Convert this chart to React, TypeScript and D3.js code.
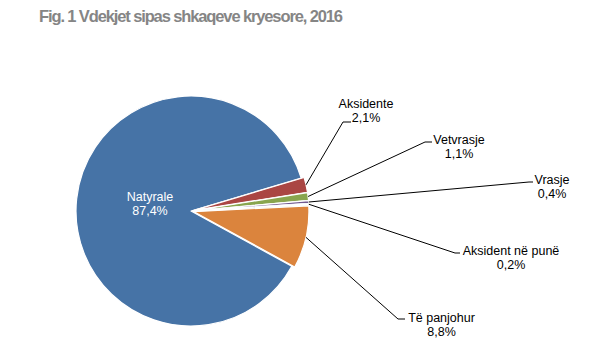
import React from "react";
import * as d3 from "d3";

const categories = ["Natyrale", "Aksidente", "Vetvrasje", "Vrasje", "Aksident në punë", "Të panjohur"];
const values = [87.4, 2.1, 1.1, 0.4, 0.2, 8.8];
const valueLabels = ["87,4%", "2,1%", "1,1%", "0,4%", "0,2%", "8,8%"];
const colors = ["#4673A6", "#AA4643", "#89A54E", "#71588F", "#4198AF", "#DB843D"];

// label layout (text centre, leader elbow x/y and end x)
const labelLayout = [
  null,
  { tx: 366, ty: 103, ex: 343, ey: 122, hx: 351 },
  { tx: 459, ty: 139, ex: 425, ey: 142, hx: 432 },
  { tx: 552, ty: 179, ex: 529, ey: 182, hx: 533 },
  { tx: 511, ty: 250, ex: 455, ey: 253, hx: 460 },
  { tx: 441.5, ty: 317, ex: 398, ey: 319, hx: 405 },
];

const W = 598;
const H = 358;
const cx = 191;
const cy = 211;
const R = 115;
const explode = 3;
const deg = Math.PI / 180;

export default function App() {
  const total = d3.sum(values);
  const natEnd = 73.4 * deg;
  const start = natEnd - (values[0] / total) * 2 * Math.PI;
  const pie = d3
    .pie<number>()
    .sort(null)
    .startAngle(start)
    .endAngle(start + 2 * Math.PI)
    .value((d) => d);
  const arcs = pie(values);
  const arc = d3.arc<d3.PieArcDatum<number>>().innerRadius(0).outerRadius(R);
  const font = "'Liberation Sans', Arial, Helvetica, sans-serif";

  return (
    <svg width={W} height={H} style={{ position: "absolute", left: 0, top: 0, background: "#fff" }}>
      <text
        x={39}
        y={21.5}
        fontFamily={font}
        fontWeight="bold"
        fontSize={16.5}
        fill="#858585"
        textLength={304}
        lengthAdjust="spacing"
      >
        Fig. 1 Vdekjet sipas shkaqeve kryesore, 2016
      </text>
      <g transform={`translate(${cx},${cy})`}>
        {arcs.map((a, i) => {
          const mid = (a.startAngle + a.endAngle) / 2;
          const off = i === 0 ? 0 : explode;
          const dx = Math.sin(mid) * off;
          const dy = -Math.cos(mid) * off;
          return (
            <path
              key={i}
              d={arc(a) || ""}
              transform={`translate(${dx},${dy})`}
              fill={colors[i]}
              stroke="#fff"
              strokeWidth={1.2}
              strokeLinejoin="round"
            />
          );
        })}
      </g>
      {arcs.map((a, i) => {
        const L = labelLayout[i];
        if (!L) return null;
        const mid = (a.startAngle + a.endAngle) / 2;
        const r0 = R + explode;
        const sx = cx + Math.sin(mid) * r0;
        const sy = cy - Math.cos(mid) * r0;
        return (
          <g key={i}>
            <polyline
              points={`${sx},${sy} ${L.ex},${L.ey} ${L.hx},${L.ey}`}
              fill="none"
              stroke="#000"
              strokeWidth={1}
            />
            <text x={L.tx} y={L.ty + 4.5} textAnchor="middle" fontFamily={font} fontSize={12.5} fill="#000">
              {categories[i]}
            </text>
            <text x={L.tx} y={L.ty + 19} textAnchor="middle" fontFamily={font} fontSize={12.5} fill="#000">
              {valueLabels[i]}
            </text>
          </g>
        );
      })}
      <text x={150} y={200.5} textAnchor="middle" fontFamily={font} fontSize={12.5} fill="#fff">
        {categories[0]}
      </text>
      <text x={150} y={215} textAnchor="middle" fontFamily={font} fontSize={12.5} fill="#fff">
        {valueLabels[0]}
      </text>
    </svg>
  );
}
